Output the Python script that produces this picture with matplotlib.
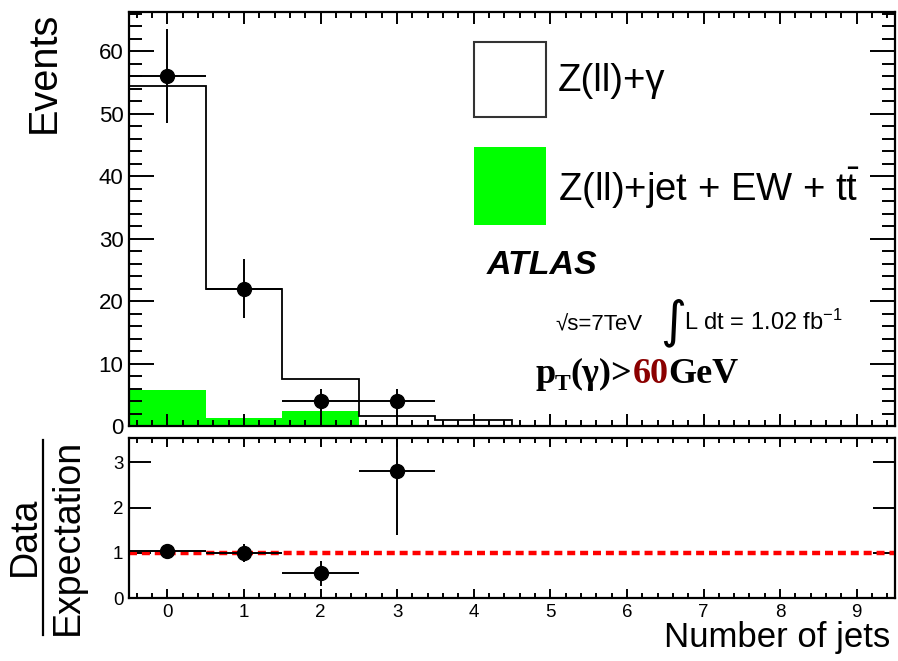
import numpy as np
import matplotlib
matplotlib.use("Agg")
import matplotlib.pyplot as plt
from matplotlib.patches import Rectangle
from matplotlib.lines import Line2D
from matplotlib.ticker import MultipleLocator

plt.rcParams['font.family'] = ['Liberation Sans', 'DejaVu Sans']
plt.rcParams['mathtext.fontset'] = 'custom'
plt.rcParams['mathtext.rm'] = 'Liberation Sans'
plt.rcParams['mathtext.it'] = 'Liberation Sans:italic'
plt.rcParams['mathtext.bf'] = 'Liberation Sans:bold'

# ---------------- data ----------------
bin_centers = [0, 1, 2, 3, 4, 5, 6, 7, 8, 9]
total_expect = [54.5, 22.0, 7.45, 1.6, 0.93, 0, 0, 0, 0, 0]   # Z(ll)+gamma stacked total
bkg_expect = [5.8, 1.3, 2.35, 0, 0, 0, 0, 0, 0, 0]             # Z(ll)+jet + EW + ttbar
data_x = [0, 1, 2, 3]
data_y = [56, 22, 4, 4]
data_err = [7.5, 4.7, 2.0, 2.0]
ratio_y = [1.04, 1.0, 0.55, 2.8]
ratio_err = [0.13, 0.2, 0.28, 1.4]
xtick_labels = ['0', '1', '2', '3', '4', '5', '6', '7', '8', '9']

W, H = 898, 661
fig = plt.figure(figsize=(W / 100, H / 100), dpi=100)

def fx(x):
    return x / W

def fy(y):
    return 1 - y / H

L, R = 129, 895
ax1 = fig.add_axes([fx(L), fy(426), fx(R) - fx(L), fy(12) - fy(426)])
ax2 = fig.add_axes([fx(L), fy(598.3), fx(R) - fx(L), fy(438.3) - fy(598.3)])

edges = np.arange(-0.5, 10.0, 1.0)

# ---------------- top panel ----------------
ax1.stairs(bkg_expect, edges, fill=True, color='#00ff00', lw=0, zorder=1)
ax1.stairs(total_expect, edges, fill=False, color='black', lw=1.3, zorder=2, baseline=0)
ax1.errorbar(data_x, data_y, yerr=data_err, xerr=0.5, fmt='o', color='black',
             ms=10, elinewidth=1.4, capsize=0, zorder=5)
ax1.set_xlim(-0.5, 9.5)
ax1.set_ylim(0, 66.3)
ax1.set_xticklabels([])
ax1.xaxis.set_major_locator(MultipleLocator(1))
ax1.xaxis.set_minor_locator(MultipleLocator(0.2))
ax1.yaxis.set_major_locator(MultipleLocator(10))
ax1.yaxis.set_minor_locator(MultipleLocator(2))
ax1.tick_params(axis='y', which='major', direction='in', length=18, width=1.4,
                left=True, right=True, labelsize=16, pad=4)
ax1.tick_params(axis='y', which='minor', direction='in', length=9.5, width=1.4,
                left=True, right=True)
ax1.tick_params(axis='x', which='major', direction='in', length=8.5, width=1.4,
                bottom=True, top=True)
ax1.tick_params(axis='x', which='minor', direction='in', length=4.5, width=1.4,
                bottom=True, top=True)
for sp in ax1.spines.values():
    sp.set_linewidth(1.6)

# ---------------- bottom panel ----------------
ax2.plot([-0.5, 9.5], [1, 1], color='#ff0000', lw=3.2,
         linestyle=(0, (1.8, 1.1)), zorder=2)
ax2.errorbar(data_x, ratio_y, yerr=ratio_err, xerr=0.5, fmt='o', color='black',
             ms=10, elinewidth=1.4, capsize=0, zorder=5)
ax2.set_xlim(-0.5, 9.5)
ax2.set_ylim(0, 3.53)
ax2.set_xticks(bin_centers)
ax2.set_xticklabels(xtick_labels)
ax2.xaxis.set_minor_locator(MultipleLocator(0.2))
ax2.yaxis.set_major_locator(MultipleLocator(1))
ax2.tick_params(axis='y', which='major', direction='in', length=16, width=1.4,
                left=True, right=True, labelsize=13.5, pad=4)
ax2.tick_params(axis='y', which='minor', left=False, right=False)
ax2.tick_params(axis='x', which='major', direction='in', length=6.5, width=1.4,
                bottom=True, top=True, labelsize=13.5, pad=4)
ax2.tick_params(axis='x', which='minor', direction='in', length=3.5, width=1.4,
                bottom=True, top=True)
for sp in ax2.spines.values():
    sp.set_linewidth(1.6)

# ---------------- axis titles ----------------
fig.text(fx(55), fy(12), 'Events', rotation=90, rotation_mode='anchor',
         ha='right', va='baseline', fontsize=28.5)
fig.text(fx(890), fy(647), 'Number of jets', ha='right', va='baseline', fontsize=25)
fig.text(fx(35), fy(536), 'Data', rotation=90, rotation_mode='anchor',
         ha='center', va='baseline', fontsize=27)
fig.text(fx(78), fy(536.5), 'Expectation', rotation=90, rotation_mode='anchor',
         ha='center', va='baseline', fontsize=27)
fig.add_artist(Line2D([fx(43), fx(43)], [fy(440), fy(635)], color='black', lw=1.6,
                      transform=fig.transFigure))

# ---------------- legend ----------------
fig.add_artist(Rectangle((fx(474), fy(117)), fx(546) - fx(474), fy(42) - fy(117),
                         facecolor='white', edgecolor='#333333', lw=1.5,
                         transform=fig.transFigure))
fig.add_artist(Rectangle((fx(474), fy(225)), fx(546) - fx(474), fy(147) - fy(225),
                         facecolor='#00ff00', edgecolor='none',
                         transform=fig.transFigure))
fig.text(fx(558), fy(91), 'Z(ll)+γ', ha='left', va='baseline', fontsize=27.5)
fig.text(fx(558), fy(200.5), r'Z(ll)+jet + EW + t$\bar{\mathrm{t}}$', ha='left',
         va='baseline', fontsize=27.5)

# ---------------- annotations ----------------
fig.text(fx(487), fy(274), 'ATLAS', ha='left', va='baseline', fontsize=24.5,
         fontweight='bold', fontstyle='italic')
fig.text(fx(555), fy(330), '√s=7TeV', ha='left', va='baseline', fontsize=16)
fig.text(fx(660), fy(336), '∫', ha='left', va='baseline', fontsize=36,
         family=['DejaVu Sans'])
fig.text(fx(684), fy(330), r'L dt = 1.02 fb$^{\mathregular{-1}}$', ha='left',
         va='baseline', fontsize=17)

# pT(gamma) > 60 GeV, composed piecewise
renderer = fig.canvas.get_renderer()
serif = ['Liberation Serif', 'DejaVu Serif']
pieces = [
    ('p', 26, 'black', 0),
    ('T', 17, 'black', 7),
    ('(γ)>', 26, 'black', 0),
    ('60', 26, '#8b0000', 0),
    ('GeV', 26, 'black', 0),
]
xcur = 535
for txt, size, col, dy in pieces:
    t = fig.text(fx(xcur), fy(383 + dy), txt, ha='left', va='baseline',
                 fontsize=size, color=col, fontweight='bold', family=serif)
    xcur += t.get_window_extent(renderer).width

fig.savefig('out.png', dpi=100)
